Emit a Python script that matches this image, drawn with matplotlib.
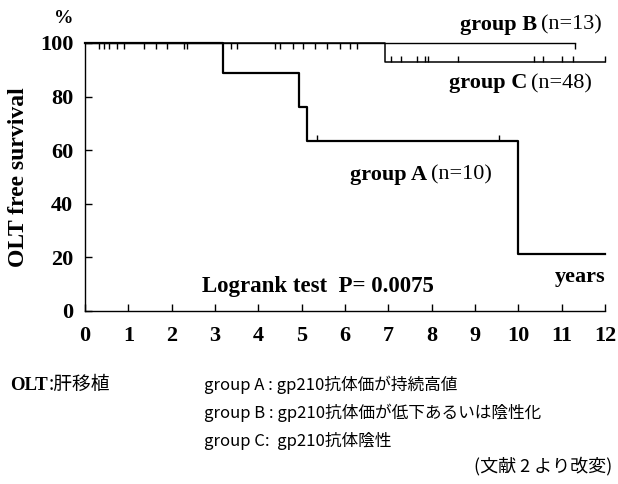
import matplotlib
matplotlib.use("Agg")
import matplotlib.pyplot as plt
from matplotlib.transforms import IdentityTransform

# Kaplan-Meier steps (years, % OLT free survival)
a_times = [0, 3.18, 4.94, 5.13, 10.0, 12.0]
a_surv = [100, 88.9, 76.2, 63.5, 21.2, 21.2]
a_censor = [5.36, 9.56]

b_times = [0, 11.3]
b_surv = [100, 100]
b_censor = [0.32, 0.55, 0.9, 1.64, 2.29, 3.37, 4.39, 4.8, 5.3, 5.89, 6.28, 11.3]

c_times = [0, 6.93, 12.0]
c_surv = [100, 92.9, 92.9]
c_censor_top = [0.44, 0.74, 1.36, 1.9, 2.36, 3.5, 4.5, 5.04, 5.58, 6.12]
c_censor_low = [7.07, 7.3, 7.66, 7.85, 7.92, 8.6, 10.35, 10.57, 11.0, 11.27, 12.0]

x_ticks = list(range(0, 13))
y_ticks = [0, 20, 40, 60, 80, 100]

footnotes = [
    "group A : gp210抗体価が持続高値",
    "group B : gp210抗体価が低下あるいは陰性化",
    "group C:  gp210抗体陰性",
]

SERIF = "Liberation Serif"
JP = ["Noto Sans CJK JP", "DejaVu Sans"]

fig = plt.figure(figsize=(6.18, 4.84), dpi=100)
ax = fig.add_axes([85 / 618, 173 / 484, 520 / 618, 268 / 484])

ax.step(a_times, a_surv, where="post", color="black", lw=1.6, clip_on=False)
ax.step(b_times, b_surv, where="post", color="black", lw=1.0, clip_on=False)
ax.step(c_times, c_surv, where="post", color="black", lw=1.1, clip_on=False)

tick_len = 2.2
ax.vlines(a_censor, 63.5, 63.5 + tick_len, color="black", lw=1.0)
ax.vlines(b_censor, 100 - tick_len, 100, color="black", lw=1.0, clip_on=False)
ax.vlines(c_censor_top, 100 - tick_len, 100, color="black", lw=1.0, clip_on=False)
ax.vlines(c_censor_low, 92.9, 92.9 + tick_len, color="black", lw=1.0, clip_on=False)

ax.set_xlim(0, 12)
ax.set_ylim(0, 100)
ax.set_xticks(x_ticks)
ax.set_yticks(y_ticks)
for s in ["top", "right"]:
    ax.spines[s].set_visible(False)
for s in ["left", "bottom"]:
    ax.spines[s].set_linewidth(1.0)
ax.tick_params(direction="in", length=5, width=1.0)
ax.tick_params(axis="x", pad=10.5)
ax.tick_params(axis="y", pad=8.5)
for lab in ax.get_xticklabels() + ax.get_yticklabels():
    lab.set_fontfamily(SERIF)
    lab.set_fontweight("bold")
    lab.set_fontsize(16)

ax.set_ylabel("OLT free survival", fontfamily=SERIF, fontweight="bold",
              fontsize=17, labelpad=8)
ax.text(-0.04, 1.06, "%", transform=ax.transAxes, fontfamily=SERIF,
        fontweight="bold", fontsize=14, ha="center", va="bottom")

fig.canvas.draw()
renderer = fig.canvas.get_renderer()


def label(x, y, bold, rest, size=16):
    t = ax.text(x, y, bold, fontfamily=SERIF, fontweight="bold",
                fontsize=size, ha="left", va="baseline")
    if rest:
        bb = t.get_window_extent(renderer)
        px, py = ax.transData.transform((x, y))
        fig.text(bb.x1 + 4, py, rest, transform=IdentityTransform(),
                 fontfamily=SERIF, fontsize=size, ha="left", va="baseline")


label(8.65, 104.9, "group B", "(n=13)")
label(8.4, 83.2, "group C", "(n=48)")
label(6.12, 48.9, "group A", "(n=10)")
label(2.7, 7.1, "Logrank test  P= 0.0075", None, size=16.5)
ax.text(12.02, 11, "years", fontfamily=SERIF, fontweight="bold", fontsize=16,
        ha="right", va="baseline")

# footnotes
t = fig.text(10 / 618, 1 - 390 / 484, "OLT", fontfamily=SERIF,
             fontweight="bold", fontsize=13.5, va="baseline")
bb = t.get_window_extent(renderer)
fig.text(bb.x1 + 1, (1 - 390 / 484) * fig.bbox.height, ":肝移植",
         transform=IdentityTransform(), fontfamily=JP, fontsize=13.5,
         va="baseline")
for i, line in enumerate(footnotes):
    fig.text(204 / 618, 1 - (390 + 28 * i) / 484, line,
             fontfamily=JP, fontsize=12, va="baseline")
fig.text(612 / 618, 1 - 471 / 484, "(文献 2 より改変)",
         fontfamily=JP, fontsize=13, ha="right", va="baseline")

fig.savefig("out.png", dpi=100)
